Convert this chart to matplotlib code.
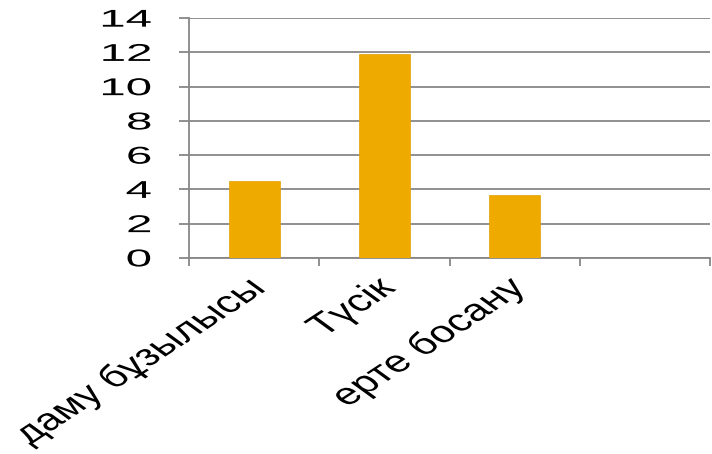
import matplotlib
matplotlib.use("Agg")
import matplotlib.pyplot as plt
import numpy as np
from matplotlib.patheffects import AbstractPathEffect
from matplotlib.transforms import Affine2D

categories = ["даму бұзылысы", "Түсік", "ерте босану", ""]
values = [4.5, 11.9, 3.7, 0]
yticks = [0, 2, 4, 6, 8, 10, 12, 14]

plt.rcParams['font.family'] = ['Liberation Sans', 'DejaVu Sans']


class HStretch(AbstractPathEffect):
    """Stretch text horizontally about its right end (the reference is widened)."""
    def __init__(self, sx, dx=0.0):
        super().__init__()
        self.sx = sx
        self.dx = dx

    def draw_path(self, renderer, gc, tpath, affine, rgbFace=None):
        ext = tpath.get_extents()
        px, py = affine.transform((ext.x1, (ext.y0 + ext.y1) / 2))
        st = (Affine2D().translate(-px, -py).scale(self.sx, 1)
              .translate(px + self.dx, py))
        renderer.draw_path(gc, tpath, affine + st, rgbFace)


fig = plt.figure(figsize=(7.12, 4.54), dpi=100)
ax = fig.add_axes([0.2655, 0.432, 0.7317, 0.528])

x = np.arange(len(categories))
ax.bar(x[:3], values[:3], width=0.39, color="#EFAA00", edgecolor="#E0A000",
       linewidth=0.5, zorder=3)

ax.set_xlim(-0.5, len(categories) - 0.5)
ax.set_ylim(0, 14)
ax.set_yticks(yticks)
ax.set_yticklabels([str(t) for t in yticks], fontsize=17.5)
ax.yaxis.grid(True, color="#878787", linewidth=1.3, zorder=0)
ax.set_axisbelow(True)

for s in ["top", "right"]:
    ax.spines[s].set_visible(False)
for s in ["left", "bottom"]:
    ax.spines[s].set_color("#878787")
    ax.spines[s].set_linewidth(1.3)

ax.tick_params(axis="y", length=7.2, width=1.3, color="#878787", pad=20)
ax.set_xticks(np.arange(-0.5, len(categories)), minor=True)
ax.tick_params(axis="x", which="minor", length=6, width=1.3, color="#878787")
ax.set_xticks(x)
ax.set_xticklabels(categories, fontsize=22, rotation=43.5, ha="right",
                   va="center", rotation_mode="anchor")
ax.tick_params(axis="x", which="major", length=0, pad=19)

for lab in ax.get_yticklabels():
    lab.set_path_effects([HStretch(1.95)])
for lab in ax.get_xticklabels():
    lab.set_path_effects([HStretch(1.45, dx=4)])

fig.savefig("out.png", dpi=100)
